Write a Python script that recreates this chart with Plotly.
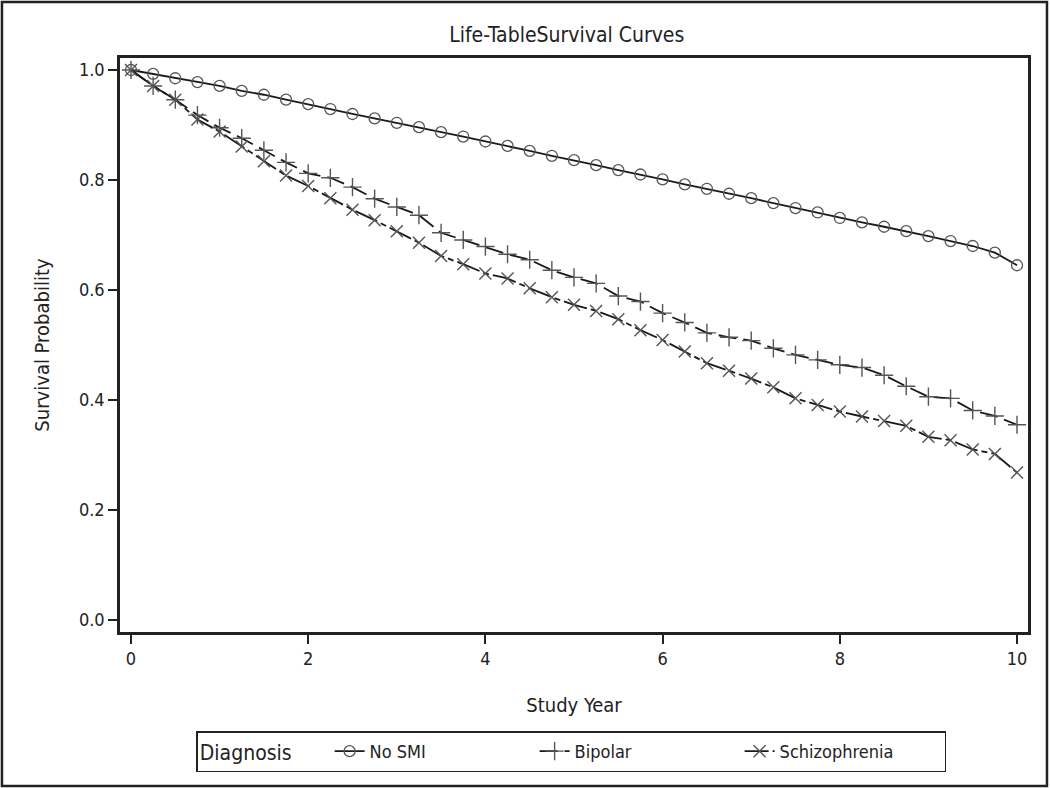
import plotly.graph_objects as go

years = [i * 0.25 for i in range(41)]

no_smi = [1.0, 0.993, 0.985, 0.978, 0.971, 0.962, 0.955, 0.946, 0.938, 0.929,
          0.920, 0.912, 0.904, 0.896, 0.887, 0.879, 0.870, 0.862, 0.853, 0.844,
          0.836, 0.827, 0.818, 0.810, 0.801, 0.792, 0.784, 0.775, 0.767, 0.758,
          0.749, 0.741, 0.731, 0.723, 0.715, 0.707, 0.698, 0.689, 0.680, 0.668,
          0.645]

bipolar = [1.0, 0.971, 0.946, 0.918, 0.895, 0.876, 0.854, 0.832, 0.812, 0.804,
           0.787, 0.766, 0.751, 0.736, 0.704, 0.691, 0.679, 0.665, 0.655, 0.636,
           0.623, 0.612, 0.589, 0.579, 0.558, 0.541, 0.522, 0.514, 0.508, 0.494,
           0.482, 0.473, 0.464, 0.459, 0.445, 0.425, 0.406, 0.403, 0.381, 0.371,
           0.355]

schizophrenia = [1.0, 0.971, 0.946, 0.910, 0.888, 0.861, 0.834, 0.808, 0.789, 0.767,
                 0.746, 0.727, 0.707, 0.686, 0.662, 0.647, 0.630, 0.621, 0.603, 0.587,
                 0.573, 0.562, 0.547, 0.527, 0.509, 0.488, 0.467, 0.453, 0.439, 0.423,
                 0.403, 0.391, 0.379, 0.370, 0.362, 0.353, 0.333, 0.327, 0.310, 0.302,
                 0.268]

x_ticks = [0, 2, 4, 6, 8, 10]
y_ticks = [0.0, 0.2, 0.4, 0.6, 0.8, 1.0]

FONT = "DejaVu Sans Condensed, DejaVu Sans, sans-serif"
LINE_C = "#1a1a1a"
MARK_C = "#555555"

fig = go.Figure()
fig.add_trace(go.Scatter(
    x=years, y=no_smi, name="No SMI", mode="lines+markers",
    line=dict(color=LINE_C, width=1.8, dash="solid"),
    marker=dict(symbol="circle-open", size=11, color=MARK_C, line=dict(width=1.3, color=MARK_C)),
))
fig.add_trace(go.Scatter(
    x=years, y=bipolar, name="Bipolar", mode="lines+markers",
    line=dict(color=LINE_C, width=1.8, dash="18px,7px"),
    marker=dict(symbol="cross-thin-open", size=13, color=MARK_C, line=dict(width=1.4, color=MARK_C)),
))
fig.add_trace(go.Scatter(
    x=years, y=schizophrenia, name="Schizophrenia", mode="lines+markers",
    line=dict(color=LINE_C, width=1.8, dash="24px,4px,6px,4px"),
    marker=dict(symbol="x-thin-open", size=12, color=MARK_C, line=dict(width=1.4, color=MARK_C)),
))

fig.update_layout(
    width=1050, height=788,
    margin=dict(l=120, r=22, t=58, b=156),
    paper_bgcolor="white", plot_bgcolor="white",
    font=dict(family=FONT, size=18, color="#222222"),
    title=dict(text="Life-TableSurvival Curves", x=0.492, xref="paper",
               y=1 - 35 / 788, yref="container", xanchor="center", yanchor="middle",
               font=dict(family=FONT, size=21, color="#222222")),
    showlegend=True,
    legend=dict(orientation="h", x=0.497, y=-0.209, xanchor="center", yanchor="middle",
                bordercolor="#222222", borderwidth=1.5, bgcolor="white",
                title=dict(text="Diagnosis     ", font=dict(size=21, family=FONT)),
                font=dict(size=18, family=FONT), entrywidth=160, entrywidthmode="pixels",
                tracegroupgap=0),
    shapes=[dict(type="rect", xref="paper", yref="paper",
                 x0=-0.1300, x1=1.0209, y0=-0.2683, y1=1.0976,
                 line=dict(color="#222222", width=2.5), fillcolor="rgba(0,0,0,0)", layer="below")],
)

fig.update_xaxes(
    range=[-0.124, 10.124], tickvals=x_ticks, ticktext=[str(v) for v in x_ticks],
    showgrid=False, zeroline=False, showline=True, linecolor="#222222", linewidth=2.5,
    mirror=True, ticks="outside", ticklen=9, tickwidth=1.5, tickcolor="#222222",
    title=dict(text="Study Year", standoff=30, font=dict(size=20, family=FONT)),
    tickfont=dict(size=18, family=FONT),
)
fig.update_yaxes(
    range=[-0.0218, 1.0218], tickvals=y_ticks, ticktext=[f"{v:.1f}" for v in y_ticks],
    showgrid=False, zeroline=False, showline=True, linecolor="#222222", linewidth=2.5,
    mirror=True, ticks="outside", ticklen=9, tickwidth=1.5, tickcolor="#222222",
    title=dict(text="Survival Probability", standoff=24, font=dict(size=20, family=FONT)),
    tickfont=dict(size=18, family=FONT),
)

fig.write_html("out.html", config={"displayModeBar": False},
               post_script="document.body.style.margin='0';")
